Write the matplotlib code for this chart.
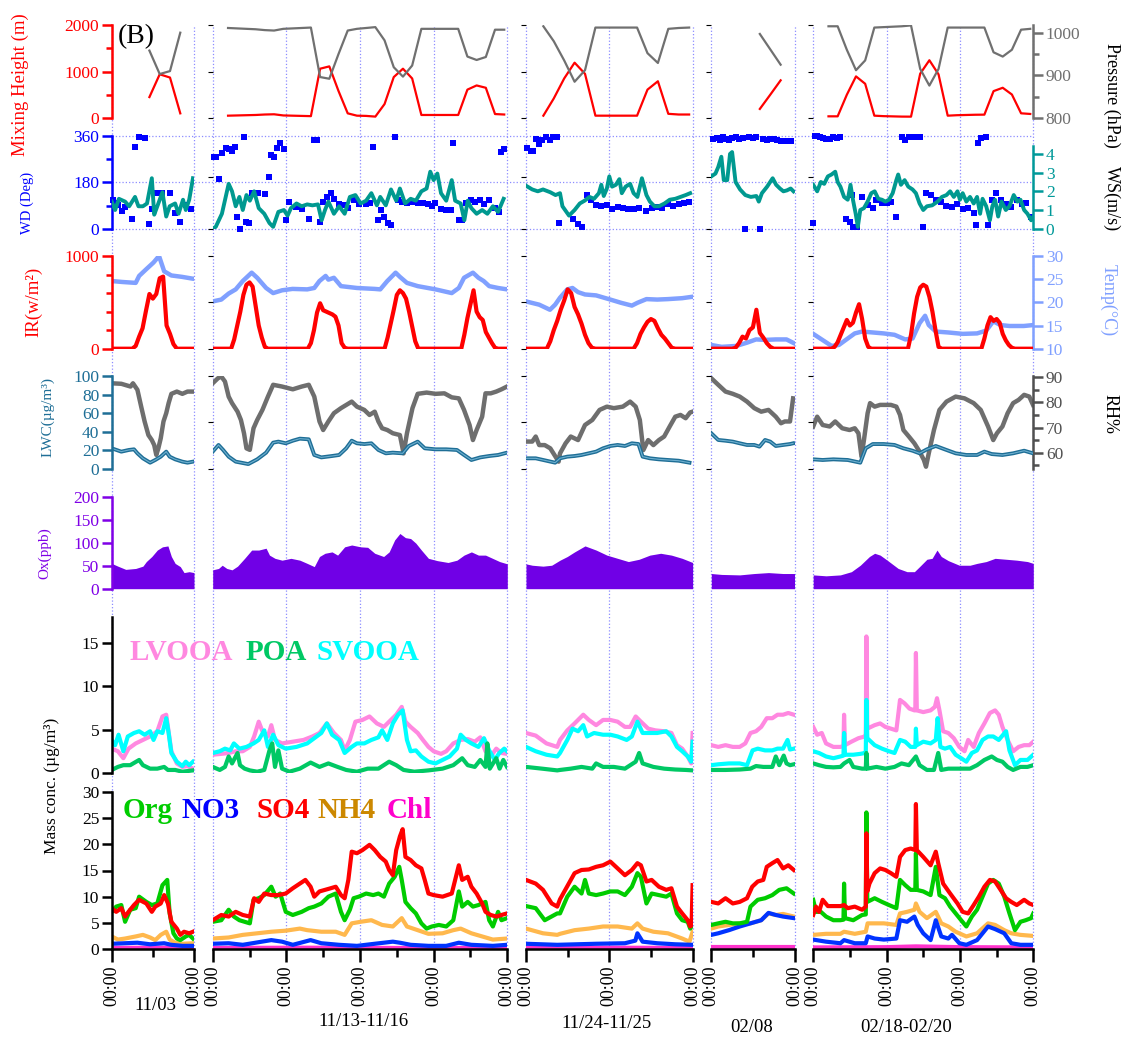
import numpy as np
import matplotlib.pyplot as plt
from matplotlib.ticker import MultipleLocator

nan = np.nan

# ---------------- data ----------------
seg_days = [1, 4, 2, 1, 3]
seg_labels = ['11/03', '11/13-11/16', '11/24-11/25', '02/08', '02/18-02/20']

# mixing height (m) and pressure (hPa), every 3 h from 02:00
met_start, met_step = 2, 3
mix_height = [
    [nan, nan, nan, 450, 940, 870, 100, nan],
    [nan, 50, 55, 60, 65, 75, 80, 55, 50, 45, 40, 1060, 1110, 580, 100, 50, 45, 30, 300, 880,
     1060, 850, 65, 65, 65, 65, 65, 610, 700, 650, 85, 75],
    [nan, 50, 420, 850, 1190, 950, 50, 50, 50, 50, 50, 610, 790, 90, 75, 75],
    [nan, nan, nan, nan, 195, 500, 810, nan],
    [nan, 36, 36, 500, 895, 736, 50, 40, 35, 30, 29, 953, 1242, 939, 50, 60, 65, 70, 72, 578,
     650, 505, 101, 87],
]
pressure = [
    [nan, nan, nan, 958, 903, 910, 1000, nan],
    [nan, 1011, 1010, 1009, 1008, 1006, 1005, 1009, 1010, 1011, 1012, 896, 892, 950, 1005, 1009,
     1011, 1013, 982, 919, 897, 923, 1009, 1009, 1009, 1009, 1009, 944, 936, 943, 1007, 1007],
    [nan, 1015, 980, 935, 885, 912, 1012, 1012, 1012, 1012, 1012, 952, 929, 1009, 1011, 1012],
    [nan, nan, nan, nan, 997, 961, 925, nan],
    [nan, 1015, 1015, 960, 912, 935, 1012, 1013, 1014, 1015, 1017, 915, 876, 915, 1012, 1012,
     1012, 1012, 1012, 954, 944, 960, 1007, 1009],
]

# wind direction (deg), (hour, value)
wind_dir = [
    [(0.5, 111), (1.5, 100), (1.8, 92), (2.9, 70), (4, 85), (6, 36), (6.8, 318), (8, 357), (9.6, 353),
     (11, 18), (11.7, 75), (13.3, 137), (14.8, 140), (16.9, 137), (18.5, 60), (20, 27), (21.6, 92), (23, 75)],
    [(0.3, 277), (1, 277), (1.9, 192), (3, 293), (4.2, 312), (5.2, 308), (6.3, 303), (7.3, 319), (8, 44),
     (9, 0), (10.1, 355), (11, 27), (11.9, 23), (12.9, 137), (14.6, 137), (16.9, 135), (18.3, 199),
     (19, 286), (20.1, 280), (21, 312), (22, 334), (23.1, 308), (24, 34), (25, 105), (27.3, 83), (29, 75),
     (31.4, 36), (33, 344), (34, 344), (35, 27), (36, 105), (37.2, 124), (38.4, 137), (39.5, 114),
     (41.2, 96), (43, 92), (44.2, 79), (46, 111), (47.7, 96), (50, 96), (51.2, 101), (52.3, 318),
     (53.8, 34), (55, 73), (55.8, 44), (57, 23), (58.1, 14), (59.3, 357), (60.4, 111), (61.6, 105),
     (63.3, 101), (65, 105), (66.8, 98), (68.5, 98), (70.3, 96), (71.4, 88), (72.6, 98), (74.4, 75),
     (76.1, 73), (77.5, 73), (78.4, 334), (80.2, 34), (81.3, 34), (82.5, 98), (84.3, 111), (85.4, 105),
     (87.2, 111), (88.4, 96), (90.1, 111), (91.9, 79), (93.4, 66), (93.9, 299), (95, 309)],
    [(0.3, 312), (1.3, 303), (2, 303), (2.8, 347), (3.8, 329), (4.7, 344), (5.7, 355), (7, 344),
     (7.8, 355), (9, 357), (9.6, 21), (13.4, 36), (15, 18), (16, 8), (17.6, 131), (18.6, 111),
     (20.2, 92), (21.7, 88), (23.3, 92), (24.8, 75), (26.4, 83), (27.9, 79), (29.5, 75), (31, 75),
     (32.6, 79), (34.7, 70), (36.2, 79), (37.8, 85), (39.3, 79), (40.9, 96), (42.4, 88), (44, 96),
     (45.5, 101), (47.1, 105)],
    [(0.5, 350), (1.5, 352), (2.5, 345), (3.3, 355), (4.2, 350), (5, 345), (6, 352), (7, 355), (8, 350),
     (9, 352), (9.8, 0), (11, 355), (12, 352), (13, 355), (14, 0), (15, 350), (16, 345), (17, 350),
     (18, 348), (19, 345), (20, 342), (21, 342), (22, 340), (23, 340)],
    [(0, 23), (0.5, 360), (1.3, 360), (2.2, 355), (3.1, 352), (4.3, 350), (5.5, 348), (6.6, 355),
     (7.8, 352), (8.9, 355), (10.7, 36), (11.9, 27), (12.7, 131), (13, 8), (14.2, 8), (16, 124),
     (17.8, 92), (19.5, 79), (20.7, 111), (22.5, 98), (24.2, 98), (25.4, 105), (27.2, 47), (29, 357),
     (30.1, 344), (31.3, 355), (33, 355), (34.8, 355), (36, 8), (37, 140), (38.4, 131), (40.1, 111),
     (41.9, 105), (43.6, 88), (45.4, 85), (47.2, 96), (48.9, 75), (50.7, 79), (52.5, 62), (53.4, 14),
     (53.9, 331), (54.8, 351), (56.6, 357), (57.2, 14), (58.4, 111), (59.8, 137), (61.3, 111), (63, 96),
     (64.8, 85), (66.6, 111), (68.4, 96), (69.5, 98), (71.3, 47)],
]

# wind speed (m/s)
wind_speed = [
    [(0, 1.45), (1, 1.0), (2.1, 1.6), (3.9, 1.45), (5.1, 1.2), (6.8, 1.7), (7.8, 1.2), (9.1, 1.2),
     (10.3, 1.35), (11.7, 2.7), (12.4, 0.75), (13.3, 1.2), (14.8, 1.95), (15.9, 0.65), (16.9, 1.2),
     (18.5, 1.35), (19.5, 0.8), (20.8, 1.55), (21.6, 1.0), (22.6, 1.55), (23.7, 2.7)],
    [(0, 0.0), (1, 0.1), (3, 0.8), (5.2, 2.4), (6.3, 2.0), (7.5, 1.2), (8.7, 1.7), (9.8, 1.0), (11, 1.8),
     (12.1, 1.5), (13.5, 2.0), (15, 1.1), (16.8, 0.8), (18.5, 0.3), (19.7, 0.1), (21.4, 0.9), (23.2, 1.0),
     (24.4, 0.7), (25.5, 1.1), (27.3, 1.35), (29, 1.2), (30.8, 1.3), (32.5, 1.25), (34.3, 1.3),
     (35.5, 0.45), (36.6, 1.0), (37.7, 1.45), (39.5, 0.8), (41.2, 1.2), (43, 0.8), (44.7, 1.7),
     (46.5, 1.8), (48.2, 1.35), (50, 1.5), (51.7, 1.9), (53.5, 1.25), (54.6, 1.7), (56.4, 1.25),
     (58.1, 2.1), (59.8, 1.5), (61, 2.15), (62.7, 1.35), (64.5, 1.6), (66.2, 1.5), (68, 2.0),
     (69.7, 2.15), (70.9, 3.05), (72, 2.6), (73.2, 2.95), (74.4, 1.9), (76.1, 1.5), (77.9, 2.6),
     (79, 1.5), (80.8, 1.35), (82, 0.45), (83.1, 1.5), (84.3, 1.1), (86, 0.8), (87.8, 1.0), (89.5, 0.8),
     (91.3, 1.2), (93, 0.9), (94.8, 1.6)],
    [(0, 2.3), (1.8, 2.1), (3.4, 2.0), (4.9, 2.1), (7, 1.95), (8.5, 1.8), (9.8, 1.9), (10.5, 1.2),
     (12.4, 0.7), (14, 1.0), (15.5, 1.35), (16.9, 1.5), (18.3, 1.7), (19.6, 1.6), (21, 1.9), (21.7, 2.35),
     (22.4, 1.75), (23.3, 2.15), (24, 2.8), (24.8, 2.25), (25.9, 2.35), (26.9, 2.65), (27.6, 1.9),
     (28.7, 2.25), (30, 2.4), (31, 1.9), (32.1, 1.7), (33.4, 2.7), (34.7, 1.8), (35.7, 1.45), (37, 1.2),
     (38.3, 1.2), (39.9, 1.35), (41.4, 1.55), (43, 1.6), (44.5, 1.7), (46, 1.8), (47.3, 1.9)],
    [(0, 2.8), (1.2, 2.95), (2, 3.3), (2.9, 3.85), (3.6, 2.6), (4.6, 2.6), (5.4, 4.0), (6, 4.1), (7, 2.5),
     (8.3, 2.1), (9.8, 1.8), (11.4, 1.7), (13, 1.75), (13.7, 1.45), (14.6, 1.9), (16.1, 2.25), (17.7, 2.7),
     (18.7, 2.35), (19.8, 2.15), (20.8, 2.0), (21.8, 2.05), (22.9, 2.15), (23.7, 2.0)],
    [(0, 2.35), (1.3, 2.0), (2.5, 2.5), (3.6, 2.4), (4.8, 2.8), (6, 2.9), (7.2, 3.05), (8, 2.5), (8.9, 2.25),
     (10.1, 1.7), (11.3, 1.55), (12.2, 2.35), (13, 1.55), (13.9, 0.8), (14.6, 0.1), (15.4, 1.0),
     (16.6, 1.1), (17.8, 1.45), (19, 1.9), (20.1, 2.0), (21.3, 1.6), (22.5, 1.55), (23.6, 1.45),
     (24.8, 1.55), (26, 1.9), (27.2, 2.6), (27.8, 2.9), (28.7, 2.35), (29.9, 2.6), (31.1, 2.25),
     (32.5, 2.1), (33.6, 1.9), (34.8, 1.35), (36, 1.0), (37.2, 1.2), (38.9, 1.25), (40.7, 1.45),
     (42.1, 1.7), (43.6, 1.8), (44.8, 2.0), (46, 1.7), (47.2, 2.0), (48, 1.55), (48.9, 1.9), (50.1, 1.45),
     (51.3, 1.7), (52.5, 1.35), (53.6, 1.7), (54.6, 0.8), (55.4, 1.6), (56.6, 1.2), (57.8, 0.45),
     (58.6, 1.2), (59.5, 1.55), (60.5, 0.65), (61.6, 1.45), (63, 1.0), (64.2, 1.2), (65.6, 1.8),
     (66.8, 1.45), (67.8, 1.55), (69, 1.0), (70.1, 0.8), (71.3, 0.45), (72, 0.65)],
]

# irradiance (W/m2), hourly from 00:00
irradiance = [
    [0, 0, 0, 0, 0, 0, 0, 30, 130, 220, 410, 590, 540, 590, 760, 778, 250, 160, 50, 0, 0, 0, 0, 0, 0],
    [0] * 7 + [100, 250, 400, 580, 690, 715, 670, 460, 250, 120, 20] + [0] * 14
    + [60, 200, 390, 490, 415, 400, 385, 370, 345, 250, 60, 10] + [0] * 13
    + [120, 270, 420, 580, 630, 600, 540, 400, 240, 80] + [0] * 15
    + [150, 330, 480, 630, 400, 340, 310, 180, 120, 60, 10] + [0] * 4,
    [0] * 7 + [80, 200, 300, 420, 520, 640, 600, 450, 370, 270, 150, 60, 10] + [0] * 12
    + [60, 160, 230, 290, 320, 300, 220, 150, 110, 60, 10] + [0] * 6,
    [0, 0, 0, 0, 0, 0, 0, 10, 60, 130, 110, 200, 230, 420, 170, 120, 60, 20, 0, 0, 0, 0, 0, 0, 0],
    [0] * 7 + [20, 70, 150, 230, 310, 250, 280, 390, 480, 320, 110, 20] + [0] * 13
    + [150, 380, 560, 660, 690, 670, 560, 400, 200, 20] + [0] * 14
    + [110, 250, 340, 300, 320, 280, 160, 90, 40, 10] + [0] * 7,
]

# temperature (degC)
temperature = [
    [(0, 24.6), (3, 24.4), (7, 24.2), (8, 25.7), (10, 27.1), (12.2, 28.6), (13.8, 30.0), (14.3, 28.9),
     (15.3, 26.7), (17.4, 25.8), (20.5, 25.5), (23.7, 25.1), (24, 25.1)],
    [(0, 20.2), (2.8, 20.6), (5.2, 21.9), (7.5, 22.8), (9.8, 24.6), (12.7, 26.4), (14.5, 25.3),
     (17.4, 23.1), (19.7, 22.0), (22.6, 22.6), (26, 22.9), (30.8, 22.8), (33.1, 23.1), (34.8, 24.6),
     (36.8, 25.7), (37.7, 24.9), (39.5, 25.3), (41.8, 23.5), (47, 23.1), (52.8, 22.9), (54.6, 22.8),
     (56.9, 24.6), (59.6, 26.4), (61, 25.5), (63.3, 24.2), (66.8, 23.5), (72.6, 22.8), (77.9, 22.0),
     (80.2, 23.1), (81.9, 25.3), (84.8, 26.4), (86.6, 25.3), (88.3, 24.6), (90.1, 23.5), (93, 23.1),
     (95.9, 22.8)],
    [(0, 20.2), (3.8, 19.5), (6.9, 18.4), (8.4, 19.5), (9.8, 21.0), (11.9, 22.8), (13.4, 23.1), (15, 22.2),
     (17, 21.7), (20.2, 21.5), (24.3, 20.6), (27.4, 19.9), (30.5, 19.3), (32.1, 19.9), (34.7, 20.7),
     (37.8, 20.6), (40.9, 20.7), (45, 20.9), (47.9, 21.2)],
    [(0, 10.8), (3, 10.4), (7.2, 10.6), (10.3, 11.3), (12.9, 12.0), (15.5, 11.9), (18.6, 12.0),
     (21.7, 12.0), (23.8, 11.2)],
    [(0, 13.2), (3, 11.9), (6, 10.6), (8.4, 10.8), (11.3, 12.2), (13.6, 13.3), (16, 13.7), (19.5, 13.5),
     (23, 13.3), (26.6, 13.0), (30.1, 12.0), (32.5, 12.2), (34.8, 15.5), (36.6, 17.1), (37.8, 15.1),
     (40.1, 13.7), (44.2, 13.5), (48.9, 13.2), (53.6, 13.3), (56.6, 13.9), (58.9, 15.9), (61.3, 15.1),
     (64.2, 14.9), (68.9, 14.9), (72, 15.1)],
]

# liquid water content (ug/m3)
lwc = [
    [(0, 22), (2.8, 18.4), (5, 20.2), (6.5, 20.9), (7.5, 16.6), (9.1, 11.2), (11.2, 6.5), (12.7, 9.4),
     (14.3, 13), (15.9, 18.4), (16.9, 13), (18.5, 10.1), (20.6, 7.6), (22.1, 6.5), (23.7, 7.6)],
    [(0, 18.4), (1.9, 25.6), (3.4, 20.2), (5.2, 13), (7.5, 7.6), (11.6, 5), (14.5, 10.1), (17.4, 17.3),
     (19.7, 28.1), (21.4, 29.2), (23.8, 27.4), (26.1, 30.2), (28.4, 32.4), (31.3, 31.7), (33.1, 14.8),
     (35.4, 12.2), (38.9, 13.7), (41.2, 14.8), (43.5, 22), (45.3, 30.2), (47, 27.4), (49.4, 26.6),
     (51.7, 27.4), (54, 20.2), (56.4, 16.6), (58.7, 17.3), (61.9, 16.6), (63.9, 24.5), (66.8, 29.2),
     (69.1, 22), (72.6, 20.9), (76.1, 20.9), (79.6, 20.2), (81.9, 14.8), (84.3, 9.4), (87.2, 12.2),
     (90.1, 13.7), (93, 14.8), (95.9, 17.3)],
    [(0, 11.2), (2.8, 11.2), (5.9, 8.6), (8.4, 6.5), (9.8, 11.2), (11.9, 13), (14, 13.7), (16, 14.8),
     (18.1, 16.6), (20.2, 18.4), (22.2, 22), (24.3, 24.5), (26.4, 25.6), (28.5, 24.5), (30.5, 27.4),
     (32.4, 26.6), (33.6, 13), (35.7, 11.2), (38.3, 10.1), (40.9, 9.4), (44, 8.6), (47.1, 6.5)],
    [(0, 38.2), (2, 31), (4.1, 30.2), (6.2, 29.2), (8.2, 27.4), (10.3, 25.6), (12.4, 25.6), (13.9, 23.8),
     (15.5, 31), (17, 29.2), (18.6, 24.5), (20.7, 25.6), (22.7, 26.6), (23.6, 27.4)],
    [(0, 10.1), (3.1, 9.4), (6.6, 10.1), (11.3, 9.4), (15.4, 6.5), (17.2, 22), (19.5, 26.6), (23.1, 26.6),
     (26.6, 25.6), (29.5, 22), (32.5, 19.4), (34.8, 16.6), (37.2, 20.9), (40.1, 24.5), (43.6, 20.2),
     (46.6, 16.6), (50.1, 14.8), (53.6, 14.8), (56, 18.4), (58.4, 15.8), (61.9, 14.8), (65.4, 16.6),
     (69, 19.4), (71.9, 16.6)],
]

# relative humidity (%)
rh = [
    [(0, 87.6), (2.8, 87.4), (5.5, 86.3), (6.2, 87.6), (7.5, 85), (8.6, 78.3), (9.6, 72.4), (10.7, 67),
     (11.7, 65), (12.4, 63), (13, 59.1), (13.6, 61.7), (14.3, 65.7), (15.1, 72.4), (15.9, 75.7),
     (16.6, 79.7), (17.4, 83.4), (19, 84.3), (20.6, 83.4), (22.1, 84.3), (23.7, 84.3)],
    [(0, 87.6), (1.7, 89.6), (2.8, 90.3), (4, 88.3), (5.2, 82.3), (6.3, 79.7), (8.1, 76.3), (9.2, 73),
     (10.2, 67.7), (11, 61.7), (12.1, 61.1), (13.3, 69.7), (14.5, 73), (16.2, 77), (18, 82.3), (19.7, 87),
     (22.6, 86.3), (26.1, 85.2), (29, 86.3), (31.3, 87), (33.1, 82.3), (34.8, 72.4), (36, 69),
     (37.7, 72.4), (39.5, 75.7), (41.8, 77.7), (45.3, 80.3), (47, 78.3), (49.4, 77), (51.1, 75),
     (52.8, 76.3), (54, 72.4), (55.2, 69.7), (56.9, 69), (58.7, 67.7), (61, 67), (62.2, 59.7),
     (63.3, 67.7), (65.1, 77.7), (66.8, 83.4), (69.7, 83.9), (72.6, 83.4), (75.5, 83.6), (77.9, 82),
     (80.2, 81.6), (81.9, 77), (83.7, 71), (84.8, 65), (86, 69), (87.8, 74.3), (88.9, 83.6), (90.6, 83.6),
     (92.4, 84.3), (94.1, 85.2), (95.9, 86.3)],
    [(0, 64.4), (1.8, 64.4), (2.8, 66.4), (3.8, 63), (5.4, 63), (7, 61.7), (9.4, 56.4), (9.8, 59.7),
     (11.4, 63.7), (12.9, 66.4), (15, 65), (17, 71), (19.1, 73), (21.2, 77), (23.3, 78.3), (25.3, 77.7),
     (27.9, 78.3), (30, 80.3), (31.6, 78.3), (32.8, 73), (33.8, 61), (35.2, 65), (36.7, 63), (38.3, 65),
     (39.8, 66.4), (41.4, 70.4), (43, 74.3), (44.5, 75), (46, 73.7), (47.3, 76), (48, 76.3)],
    [(0, 89.6), (2, 87), (4.1, 84.3), (6.2, 83.4), (8.2, 82.3), (10.3, 80.3), (12.4, 77.7), (14.4, 76.3),
     (16.5, 77), (18.6, 74.3), (20.1, 71.7), (21.2, 72.4), (22.7, 72.4), (23.6, 81.6)],
    [(0, 70.4), (1.3, 74.3), (3.1, 71), (5.4, 70.4), (7.2, 72.4), (9.5, 69.7), (11.9, 69), (13.6, 69.7),
     (14.8, 67.7), (15.8, 58.4), (16.6, 65), (17.8, 75.7), (18.6, 79.7), (20.1, 78.3), (21.9, 79),
     (23.6, 79), (25.4, 79), (27.2, 78.3), (28.4, 75), (29.5, 69), (31.3, 66.4), (33.1, 63.7),
     (34.8, 60.4), (36.2, 57.1), (36.9, 54.4), (37.8, 59.7), (39.5, 69), (41.3, 77), (43.6, 80.3),
     (46.6, 82.3), (49.5, 81.6), (52.5, 79.7), (54.8, 77), (57.2, 70.4), (58.9, 65), (60.1, 67.7),
     (61.9, 70.4), (63.6, 75.7), (65.4, 79.7), (67.2, 81), (69, 83), (70.7, 82.3), (71.9, 79)],
]

# Ox (ppb)
ox = [
    [(0, 55), (1.8, 49), (4.1, 42), (7, 44), (9.1, 49), (10.1, 59), (11.7, 70), (13.3, 84), (14.8, 91),
     (16.4, 93), (17.4, 70), (18.5, 55), (20, 48), (21.1, 35), (22.6, 37), (24, 35)],
    [(0, 41), (1.9, 44), (3.1, 51), (4.6, 44), (6.3, 41), (8.1, 49), (10.4, 66), (12.7, 84), (15, 84),
     (17.4, 88), (18.5, 73), (20.3, 66), (22.6, 62), (25.5, 66), (28.4, 62), (30.8, 55), (33.1, 48),
     (34.8, 70), (36.6, 77), (38.9, 80), (40.7, 73), (43, 91), (45.3, 95), (48.2, 91), (50.5, 90),
     (52.8, 77), (55.7, 70), (57.5, 80), (59.3, 106), (61, 120), (62.8, 111), (64.5, 109), (66.2, 99),
     (68, 84), (70.3, 66), (73.2, 61), (76.7, 57), (79.6, 62), (81.9, 73), (84.3, 80), (86.6, 73),
     (88.9, 73), (91.2, 66), (93.5, 59), (96, 54)],
    [(0, 54), (1.8, 51), (4.9, 49), (7.4, 51), (9.8, 62), (11.9, 70), (14, 80), (17, 93), (20.2, 84),
     (23.3, 73), (26.4, 66), (29.5, 59), (32.6, 64), (35.7, 73), (38.8, 77), (41.9, 73), (45, 66), (48, 57)],
    [(0, 33), (3, 31), (8.2, 30), (12.4, 33), (16.5, 35), (20.7, 33), (24, 33)],
    [(0, 30), (4.2, 28), (8.9, 30), (12.5, 37), (15.4, 51), (18.4, 70), (20.1, 77), (21.9, 73), (24.2, 62),
     (27.8, 44), (30.7, 37), (33.1, 37), (34.8, 48), (37.2, 64), (38.9, 66), (40.5, 84), (41.9, 70),
     (44.2, 61), (47.8, 51), (51.3, 51), (53.6, 55), (56.6, 59), (59.5, 66), (63.1, 64), (66.6, 62),
     (70.1, 59), (72, 55)],
]

# PMF factors (ug/m3)
lvooa = [
    [(0, 2.8), (1.8, 2.5), (3.4, 1.7), (4.9, 2.8), (7, 3.4), (9.1, 3.8), (11.2, 4.2), (13.3, 4.8),
     (14.8, 6.5), (15.9, 6.7), (16.4, 5.3), (17.4, 2.5), (19, 1.1), (20.6, 0.7), (22.1, 0.8), (23.7, 0.5)],
    [(0, 2.1), (2.8, 2.2), (5.2, 2.3), (7.5, 2.5), (9.8, 2.5), (12.1, 3.0), (13.5, 4.2), (15, 5.9),
     (16.2, 4.8), (18, 4.2), (19.1, 5.5), (20.3, 3.8), (22.6, 3.4), (26.1, 3.6), (29.6, 3.8), (32.5, 4.2),
     (34.8, 4.6), (37.2, 5.7), (39.5, 4.6), (41.8, 3.8), (43, 2.6), (44.7, 3.8), (46.5, 5.9), (48.8, 6.1),
     (51.1, 6.5), (53.5, 5.7), (55.8, 5.3), (57.5, 5.9), (59.8, 6.7), (61.6, 7.6), (62.8, 5.9),
     (64.5, 5.3), (66.8, 4.6), (68.5, 3.8), (70.3, 3.0), (72, 2.5), (74.4, 2.2), (76.1, 2.5), (78.4, 3.4),
     (80.8, 3.8), (83.1, 3.9), (85.4, 3.6), (87.2, 4.1), (88.9, 2.5), (90.6, 1.9), (92.4, 2.8),
     (94.1, 2.3), (95.9, 2.2)],
    [(0, 4.6), (2.8, 4.3), (5.9, 3.4), (9, 3.0), (9.8, 3.8), (11.9, 4.9), (14, 5.7), (16.5, 6.7),
     (18.1, 6.1), (20.2, 5.5), (22.2, 6.1), (24.3, 6.1), (26.4, 5.9), (28.5, 5.3), (30, 5.3), (31.6, 6.5),
     (33.1, 5.9), (35.2, 5.1), (37.3, 4.9), (39.8, 4.8), (41.9, 4.6), (43.5, 3.2), (45, 2.8), (46.6, 1.9),
     (47.6, 1.1), (48, 4.6)],
    [(0, 3.2), (2, 3.0), (4.1, 3.2), (6.2, 3.0), (8.2, 3.0), (9.8, 3.4), (11.3, 4.6), (12.9, 4.8),
     (14.4, 5.3), (16, 6.3), (17.6, 6.3), (19.1, 6.7), (20.7, 6.7), (22.2, 6.9), (23.8, 6.7)],
    [(0, 5.3), (1.3, 4.4), (2.8, 4.6), (4.2, 3.4), (6.6, 3.0), (8.9, 3.0), (9.9, 3.1), (10.1, 6.7),
     (10.4, 3.2), (12.5, 3.6), (14.8, 4.0), (16.9, 4.2), (17.2, 4.3), (17.4, 15.7), (17.7, 5.1),
     (20.1, 5.5), (21.9, 5.7), (23.6, 5.3), (25.4, 5.1), (27.2, 4.9), (28.4, 8.4), (29.9, 8.0),
     (31.5, 7.4), (33.1, 7.2), (33.4, 7.2), (33.6, 13.8), (33.9, 7.2), (36, 7.0), (38.4, 7.2), (39.8, 7.6),
     (40.5, 8.6), (41.3, 7.2), (42.5, 4.8), (44.2, 4.6), (46, 4.0), (47.8, 3.0), (49.5, 2.5), (50.7, 3.8),
     (52.5, 3.0), (54.2, 4.6), (56, 5.7), (57.8, 6.9), (59.5, 7.2), (60.7, 6.7), (61.9, 5.3), (63.6, 3.8),
     (65.4, 2.5), (67.2, 3.0), (69, 3.2), (70.7, 3.2), (72, 3.6)],
]
svooa = [
    [(0, 3.8), (1, 3.2), (2, 4.4), (3.4, 2.5), (4.7, 4.2), (6.5, 4.6), (8, 4.8), (9.6, 4.4), (11.2, 4.8),
     (12.2, 3.8), (13.3, 4.8), (14.8, 4.6), (15.9, 6.3), (16.6, 4.6), (17.4, 2.3), (19, 1.3), (20.6, 0.8),
     (21.6, 1.3), (22.6, 0.9), (23.7, 1.3)],
    [(0, 2.3), (2.3, 2.5), (4, 2.8), (5.7, 2.6), (6.9, 3.4), (8.7, 2.8), (11, 3.0), (13.3, 3.4), (15, 3.8),
     (16.8, 4.9), (18, 3.0), (19.7, 4.4), (21.4, 3.2), (23.8, 2.8), (27.3, 3.0), (30.8, 3.4), (33.1, 4.0),
     (35.4, 4.6), (37.2, 5.7), (38.9, 4.4), (41.2, 3.8), (43, 2.3), (45.3, 3.0), (47, 3.4), (49.4, 3.4),
     (51.7, 3.8), (54, 4.1), (55.2, 4.9), (56.9, 3.8), (58.7, 5.7), (60.4, 6.7), (61.9, 7.2), (63.3, 3.8),
     (64.5, 2.5), (66.2, 2.6), (68, 1.9), (70.3, 1.3), (72.6, 1.1), (74.9, 1.5), (77.2, 1.9), (79.6, 2.8),
     (80.8, 4.4), (82.5, 3.8), (84.3, 3.4), (86.6, 3.0), (88.4, 4.0), (90.1, 2.6), (91.9, 1.5),
     (93.4, 2.3), (95, 2.8), (95.9, 2.5)],
    [(0, 3.0), (2.8, 2.5), (5.9, 2.1), (9, 1.9), (9.8, 2.3), (11.9, 3.8), (13.4, 5.1), (15, 4.8),
     (16.5, 5.5), (17.6, 4.2), (19.6, 4.6), (22.2, 4.4), (24.3, 4.4), (26.4, 4.2), (29, 3.8), (30.5, 4.2),
     (32.1, 5.9), (33.6, 4.6), (35.7, 4.6), (37.8, 4.6), (40.4, 4.8), (41.9, 4.2), (43.5, 3.0), (45, 2.5),
     (46.6, 1.9), (47.6, 1.3), (48, 3.6)],
    [(0, 0.9), (2, 1.0), (5.1, 1.1), (8.2, 1.1), (10.3, 0.9), (11.9, 2.6), (13.4, 2.8), (15.5, 2.6),
     (17.6, 2.6), (19.1, 2.8), (20.7, 2.8), (22, 3.8), (22.7, 2.7), (23.8, 2.8)],
    [(0, 2.5), (1.9, 2.3), (4.2, 1.9), (6.6, 1.7), (8.9, 1.9), (9.9, 2.0), (10.1, 4.6), (10.4, 2.1),
     (13.1, 2.1), (15.4, 2.2), (16.9, 2.3), (17.2, 2.3), (17.4, 8.4), (17.7, 4.0), (20.1, 3.2), (22.5, 2.8),
     (24.8, 2.5), (26.6, 2.3), (28.4, 3.8), (30.1, 3.6), (31.9, 3.0), (33.4, 3.0), (33.6, 5.1), (33.9, 3.2),
     (36, 3.6), (38.4, 3.4), (40.1, 3.8), (40.7, 6.3), (41.6, 3.0), (43.1, 2.8), (44.8, 3.0), (46.6, 2.1),
     (48.4, 1.7), (50.1, 1.3), (51.9, 2.3), (53.6, 2.6), (55.4, 3.8), (57.2, 4.2), (58.9, 4.2),
     (60.7, 3.8), (63.1, 4.8), (64.2, 2.6), (66, 0.9), (67.8, 1.5), (70.1, 1.5), (72, 2.1)],
]
poa = [
    [(0, 0.35), (1.8, 0.7), (3.4, 0.9), (5.4, 0.9), (8, 1.5), (9.1, 0.9), (11.2, 0.5), (13.3, 0.5),
     (15.3, 0.7), (16.4, 0.35), (18.5, 0.35), (20.6, 0.15), (23.7, 0.3)],
    [(0, 0.7), (2.3, 0.35), (4, 0.7), (5.2, 1.9), (6.3, 1.1), (8.1, 2.3), (8.9, 0.9), (10.4, 0.5),
     (12.1, 0.3), (14.5, 0.15), (16.8, 0.35), (18.5, 2.6), (19.4, 3.4), (20.3, 0.7), (21.4, 2.6),
     (22.6, 0.5), (25, 0.15), (28.4, 0.5), (31.9, 1.2), (34.8, 0.7), (37.7, 1.1), (40.7, 0.7),
     (43.5, 0.35), (47, 0.15), (50.5, 0.5), (54, 0.5), (57.5, 1.3), (59.8, 0.9), (62.2, 0.35),
     (65.7, 0.15), (70.3, 0.3), (74.9, 0.5), (78.4, 0.9), (81.3, 1.7), (83.1, 0.9), (85.4, 0.7),
     (87.2, 1.5), (88.9, 0.7), (89.5, 3.4), (90.3, 0.5), (92.4, 1.7), (93.5, 0.5), (94.7, 1.5), (95.9, 0.7)],
    [(0, 0.7), (4.6, 0.5), (9, 0.3), (9.8, 0.35), (12.9, 0.5), (16, 0.7), (19.1, 0.5), (20.2, 1.1),
     (22.2, 0.7), (25.3, 0.7), (28.5, 0.5), (31.6, 1.3), (32.6, 2.3), (33.6, 1.1), (36.7, 0.7),
     (39.8, 0.5), (43, 0.4), (46.1, 0.35), (48, 0.3)],
    [(0, 0.35), (4.1, 0.35), (8.2, 0.4), (11.3, 0.5), (12.9, 0.8), (15, 0.7), (17.6, 0.7), (18.6, 1.9),
     (19.6, 0.9), (20.9, 2.0), (21.7, 1.1), (22.7, 0.9), (23.8, 1.0)],
    [(0, 1.1), (1.9, 0.9), (4.2, 0.7), (6.6, 0.65), (8.9, 0.7), (10.1, 1.1), (11.9, 1.5), (13.1, 0.7),
     (16, 0.5), (17.2, 0.5), (17.4, 2.3), (17.7, 0.5), (20.7, 0.7), (23.6, 0.5), (26.6, 0.7), (28.9, 1.1),
     (31.3, 0.9), (33.6, 1.9), (34.8, 0.9), (37.2, 0.35), (39.5, 0.35), (40.9, 2.3), (41.9, 0.35),
     (44.2, 0.5), (46.6, 0.5), (48.9, 0.5), (51.3, 0.5), (53.6, 0.9), (56, 1.5), (58.4, 1.9), (60.1, 1.5),
     (61.9, 1.3), (63.6, 0.7), (65.4, 0.35), (67.8, 0.7), (70.1, 0.7), (72, 0.9)],
]

# AMS species (ug/m3)
org = [
    [(0, 7.1), (1.3, 8.1), (2.8, 8.4), (3.9, 5.2), (5.4, 7.5), (7, 7.8), (8, 10.0), (10.1, 9.0),
     (11.7, 8.4), (13.3, 8.7), (14.8, 12.2), (16.2, 13.2), (16.9, 6.8), (18, 3.0), (19, 2.0), (20, 1.7),
     (21.6, 2.4), (22.6, 2.7), (23.7, 2.0)],
    [(0, 5.2), (2.8, 5.5), (5.2, 7.5), (6.9, 6.2), (8.7, 5.5), (10.4, 5.2), (12.1, 4.9), (13.3, 9.4),
     (15, 9.7), (16.8, 10.3), (19.1, 11.9), (20.5, 10.0), (22, 10.6), (23.8, 7.1), (26.1, 6.5), (29, 7.1),
     (31.3, 7.8), (33.1, 8.1), (35.4, 8.7), (37.7, 10.0), (40.1, 10.6), (41.8, 7.1), (43, 5.5),
     (44.7, 7.5), (45.9, 9.7), (47.6, 10.0), (50, 10.6), (52.3, 10.3), (54, 10.6), (55.8, 10.0),
     (57.5, 12.5), (59.3, 13.8), (60.8, 15.7), (61.6, 13.2), (62.8, 9.0), (64.5, 7.8), (66.2, 6.8),
     (68, 4.9), (69.7, 3.9), (71.4, 4.3), (73.7, 4.6), (76.1, 4.3), (78.4, 5.5), (80.2, 11.0), (81.3, 8.1),
     (83.1, 9.0), (84.8, 8.1), (86.6, 8.4), (88.9, 9.0), (90.1, 5.5), (91.3, 4.3), (93, 7.1), (94.1, 5.5),
     (95.9, 5.9)],
    [(0, 8.2), (2.8, 7.8), (5.4, 5.5), (9, 6.8), (9.8, 6.8), (11.9, 10.0), (14, 11.9), (16, 10.6),
     (17, 13.2), (18.1, 10.6), (20.2, 10.3), (22.2, 10.6), (24.3, 11.0), (26.4, 11.0), (28.5, 10.3),
     (30.5, 11.9), (32.1, 14.5), (33.1, 13.8), (34.7, 8.7), (36.2, 10.6), (38.3, 10.3), (40.4, 10.0),
     (41.9, 10.6), (43.5, 6.8), (45, 5.5), (46.6, 5.2), (47.3, 3.9), (48, 4.6)],
    [(0, 4.6), (2, 4.9), (4.1, 5.2), (6.2, 4.9), (8.2, 4.9), (10.3, 5.2), (11.3, 8.1), (13.4, 9.4),
     (15.5, 9.7), (17.6, 10.3), (19.6, 11.3), (21.7, 11.6), (23.8, 10.6)],
    [(0, 9.4), (0.9, 7.1), (2.5, 7.1), (4.2, 6.2), (6.6, 5.5), (8.9, 5.5), (9.9, 5.6), (10.1, 12.5),
     (10.4, 5.9), (13.1, 5.5), (16, 6.5), (17.2, 6.6), (17.4, 26.1), (17.7, 9.0), (20.1, 9.7), (22.5, 9.0),
     (24.8, 8.4), (27.2, 7.8), (28.4, 13.2), (30.1, 12.2), (31.9, 11.3), (33.4, 11.3), (33.6, 18.3),
     (33.9, 11.3), (36, 11.0), (38.4, 10.3), (40.1, 15.7), (41.3, 10.3), (43.1, 9.7), (44.8, 8.1),
     (46.6, 6.8), (48.4, 5.5), (50.1, 4.3), (51.9, 6.2), (53.6, 7.5), (55.4, 10.0), (57.2, 12.5),
     (58.9, 13.2), (60.7, 12.5), (62.5, 10.0), (64.2, 6.8), (66, 3.6), (67.8, 5.2), (69.5, 5.5),
     (71.3, 5.9), (72, 6.8)],
]
so4 = [
    [(0, 7.8), (1.3, 7.1), (2.8, 7.8), (3.9, 6.2), (4.9, 7.1), (6.5, 8.4), (8, 9.4), (10.1, 8.7),
     (11.7, 7.1), (12.7, 8.1), (14.3, 8.7), (15.3, 10.3), (16.4, 8.7), (17.4, 5.2), (19, 3.9), (20, 2.7),
     (21.1, 3.3), (22.6, 3.0), (23.7, 3.3)],
    [(0, 5.5), (2.8, 6.5), (5.2, 6.2), (7.5, 7.1), (9.8, 6.5), (12.1, 6.2), (13.5, 9.7), (15, 9.0),
     (16.8, 10.6), (19.1, 10.3), (21.4, 10.3), (23.8, 10.6), (26.1, 11.6), (28.4, 12.5), (30.2, 13.2),
     (31.9, 11.9), (33.1, 10.0), (34.8, 11.0), (36.6, 11.3), (38.4, 11.6), (40.1, 11.9), (41.8, 10.3),
     (43, 9.7), (44.2, 13.2), (45.3, 18.6), (47, 18.3), (48.8, 18.9), (51.1, 19.9), (52.8, 18.9),
     (54.6, 17.6), (56.4, 16.7), (57.5, 15.1), (58.7, 14.1), (59.8, 18.9), (61, 21.5), (61.9, 22.9),
     (62.8, 17.6), (64.5, 17.0), (66.2, 16.0), (68, 15.4), (69.1, 13.2), (70.3, 10.6), (72, 10.3),
     (74.9, 10.0), (77.9, 10.6), (80.2, 16.0), (81.3, 13.2), (83.1, 13.8), (84.3, 11.9), (86, 10.6),
     (87.8, 8.7), (88.9, 7.1), (90.6, 6.5), (92.4, 6.2), (94.1, 6.5), (95.9, 6.8)],
    [(0, 13.2), (2.8, 12.5), (4.9, 11.3), (7.4, 8.7), (9, 8.1), (9.8, 9.5), (11.9, 12.0), (14, 14.5),
     (16, 15.1), (18.1, 15.2), (20.2, 15.7), (22.2, 16.0), (24.3, 16.7), (26.4, 15.4), (28.5, 14.1),
     (30.5, 15.1), (32.1, 16.4), (33.1, 16.0), (34.7, 12.9), (36.2, 13.2), (38.3, 11.9), (40.4, 11.3),
     (41.9, 11.6), (43.5, 8.1), (45, 6.8), (46.6, 5.5), (47.3, 4.3), (47.7, 4.5), (48, 12.2)],
    [(0, 9.0), (2, 8.7), (4.1, 9.7), (6.2, 8.7), (8.2, 9.0), (10.3, 9.7), (11.8, 11.9), (13.4, 12.9),
     (15, 13.2), (16, 15.7), (17.6, 16.4), (19.1, 17.0), (20.7, 15.4), (22.2, 16.0), (23.8, 15.1)],
    [(0, 6.5), (0.9, 8.1), (1.9, 7.1), (3.1, 9.4), (4.8, 8.2), (6.6, 8.2), (8.9, 8.2), (10.1, 8.4),
     (11.3, 7.8), (13.6, 8.1), (16, 7.5), (17.2, 8.1), (17.4, 22.1), (17.7, 11.0), (18.4, 12.5),
     (20.1, 14.5), (21.9, 15.4), (23.6, 15.1), (25.4, 14.5), (27.2, 13.8), (28.4, 17.6), (30.1, 18.9),
     (31.9, 19.2), (33.4, 18.9), (33.6, 27.7), (33.9, 18.9), (36, 17.6), (38.4, 16.0), (40.1, 18.6),
     (40.9, 16.4), (42.5, 12.5), (44.8, 10.6), (47.2, 8.7), (48.9, 7.1), (50.7, 6.8), (52.5, 8.4),
     (54.2, 10.0), (56, 11.9), (57.8, 13.2), (59.5, 12.9), (61.3, 11.3), (63.1, 9.7), (64.8, 9.0),
     (66.6, 8.4), (69, 9.4), (70.7, 8.7), (72, 8.4)],
]
nh4 = [
    [(0, 2.4), (1.8, 1.8), (3.9, 2.0), (7, 2.4), (9.1, 2.7), (11.2, 2.2), (12.7, 1.7), (14.3, 2.7),
     (15.9, 3.3), (16.9, 1.8), (18.5, 1.2), (20.6, 1.0), (23.7, 1.1)],
    [(0, 2.0), (5.2, 2.2), (9.8, 2.7), (14.5, 3.0), (19.1, 3.3), (23.8, 3.5), (28.4, 3.9), (30.8, 3.6),
     (35.4, 3.3), (40.1, 3.3), (43, 2.7), (45.3, 4.9), (48.2, 5.2), (51.7, 5.5), (55.2, 4.6), (58.7, 4.3),
     (61.6, 5.9), (63.3, 4.3), (66.8, 3.6), (70.3, 2.9), (74.9, 3.0), (78.4, 3.6), (80.8, 3.9), (84.3, 3.0),
     (87.8, 2.4), (91.3, 1.8), (95.9, 2.0)],
    [(0, 3.9), (4.9, 3.0), (9, 2.7), (9.8, 2.9), (14, 3.6), (18.1, 3.9), (22.2, 4.3), (26.4, 4.3),
     (30.5, 3.9), (32.1, 4.9), (33.6, 3.9), (36.7, 3.3), (40.9, 3.0), (45, 2.0), (47.1, 1.4), (48, 3.3)],
    [(0, 3.9), (2, 4.3), (5.1, 4.6), (8.2, 4.9), (11.3, 4.9), (14.4, 5.5), (16.5, 6.8), (18.6, 6.5),
     (20.7, 6.7), (23.8, 6.2)],
    [(0, 2.7), (4.2, 2.9), (8.9, 2.9), (10.1, 3.3), (13.6, 2.9), (17.2, 3.3), (17.8, 4.9), (20.1, 4.9),
     (23.1, 4.9), (27.2, 4.6), (28.4, 6.8), (30.7, 7.1), (33.1, 7.5), (33.6, 8.7), (34.8, 7.1), (37.2, 5.9),
     (40.1, 7.1), (41.9, 4.9), (44.2, 4.3), (46.6, 3.3), (50.1, 2.4), (53.6, 3.0), (57.2, 4.9), (59.5, 4.6),
     (62.5, 3.6), (64.8, 3.0), (67.8, 2.7), (72, 2.5)],
]
no3 = [
    [(0, 1.0), (3.9, 1.1), (7.5, 1.2), (11.2, 0.9), (15.3, 1.1), (17.4, 0.8), (20.6, 0.6), (23.7, 0.6)],
    [(0, 1.0), (5.2, 1.1), (9.8, 0.8), (19.1, 1.7), (22.6, 1.4), (26.1, 0.8), (31.9, 1.7), (35.4, 1.1),
     (41.2, 0.8), (47, 0.6), (52.8, 1.0), (58.7, 1.4), (61, 1.2), (64.5, 0.8), (70.3, 0.6), (76.1, 0.6),
     (80.2, 1.2), (84.3, 0.8), (91.3, 0.6), (95.9, 0.8)],
    [(0, 1.0), (9, 0.8), (20.2, 1.0), (28.5, 1.1), (31.5, 1.6), (32.1, 3.0), (33.6, 1.4), (37.8, 1.1),
     (43, 0.9), (48, 0.8)],
    [(0, 2.7), (2, 3.0), (5.1, 3.6), (8.2, 4.3), (11.3, 4.9), (14.4, 5.5), (16.5, 6.9), (18.6, 6.5),
     (20.7, 6.2), (23.8, 5.9)],
    [(0, 1.8), (4.2, 1.4), (8.9, 1.1), (10.1, 1.7), (13.6, 1.1), (17.2, 1.1), (17.8, 2.4), (20.1, 2.0),
     (23.1, 1.8), (27.2, 2.0), (28.4, 5.5), (30.7, 5.2), (33.1, 6.2), (34.2, 4.6), (36, 3.0), (38.4, 1.7),
     (40.1, 5.5), (41.9, 2.4), (44.2, 2.0), (45.4, 2.7), (47.8, 1.1), (50.1, 0.8), (53.6, 1.7), (57.2, 4.3),
     (59.5, 3.8), (62.5, 3.0), (64.8, 1.1), (67.8, 0.8), (72, 0.8)],
]
chl = [
    [(0, 0.2), (12, 0.25), (24, 0.2)],
    [(0, 0.2), (30, 0.25), (60, 0.2), (96, 0.2)],
    [(0, 0.2), (24, 0.25), (48, 0.2)],
    [(0, 0.3), (12, 0.3), (24, 0.3)],
    [(0, 0.3), (24, 0.35), (33.6, 0.5), (48, 0.35), (72, 0.3)],
]


def xy(pairs):
    a = np.array(pairs, dtype=float)
    return a[:, 0], a[:, 1]


# ---------------- layout ----------------
plt.rcParams['font.family'] = ['Liberation Serif', 'DejaVu Serif']
W, H = 1123, 1061
seg_px = [(111.7, 194.0), (212.7, 507.3), (526.0, 692.6), (711.3, 794.5), (813.2, 1033.3)]
row_px = [(25, 118), (136, 228.7), (256, 348.7), (376, 468.7), (496.7, 588.7), (617.3, 773), (792, 949)]

fig = plt.figure(figsize=(W / 100, H / 100), dpi=100)


def rect(x0, x1, top, bot):
    return [x0 / W, 1 - bot / H, (x1 - x0) / W, (bot - top) / H]


def ftext(x, y, s, **kw):
    fig.text(x / W, 1 - y / H, s, **kw)


grid_c = '#8c8cff'
for s, (x0, x1) in enumerate(seg_px):
    bg = fig.add_axes(rect(x0, x1, 25, 949))
    bg.set_xlim(0, 24 * seg_days[s])
    bg.axis('off')
    for d in range(seg_days[s] + 1):
        bg.axvline(24 * d, color=grid_c, ls=':', lw=0.9, clip_on=False)

gb = fig.add_axes(rect(seg_px[0][0], seg_px[-1][1], *row_px[1]))
gb.set_ylim(0, 360)
gb.axis('off')
for v in (0, 180, 360):
    gb.axhline(v, color=grid_c, ls=':', lw=0.9, clip_on=False)

axes, twins = [], []
for r, (top, bot) in enumerate(row_px):
    row, trow = [], []
    for s, (x0, x1) in enumerate(seg_px):
        ax = fig.add_axes(rect(x0, x1, top, bot))
        ax.set_xlim(0, 24 * seg_days[s])
        ax.patch.set_visible(False)
        for sp in ax.spines.values():
            sp.set_visible(False)
        ax.tick_params(left=False, labelleft=False, bottom=False, labelbottom=False)
        row.append(ax)
        if r < 4:
            tw = ax.twinx()
            for sp in tw.spines.values():
                sp.set_visible(False)
            tw.tick_params(right=False, labelright=False)
            trow.append(tw)
    axes.append(row)
    twins.append(trow)


def left_axis(r, color, lim, major, minor=None):
    for ax in axes[r]:
        ax.set_ylim(*lim)
    ax = axes[r][0]
    ax.spines['left'].set_visible(True)
    ax.spines['left'].set_color(color)
    ax.spines['left'].set_linewidth(1.8)
    ax.yaxis.set_major_locator(MultipleLocator(major))
    if minor:
        ax.yaxis.set_minor_locator(MultipleLocator(minor))
    ax.tick_params(axis='y', which='both', left=True, labelleft=True, direction='out',
                   color=color, labelcolor=color, width=1.8, labelsize=12.5, pad=2)
    ax.tick_params(axis='y', which='major', length=7)
    ax.tick_params(axis='y', which='minor', length=4)


def right_axis(r, color, lim, major, minor=None, bounds=None):
    for tw in twins[r]:
        tw.set_ylim(*lim)
    tw = twins[r][-1]
    tw.spines['right'].set_visible(True)
    tw.spines['right'].set_color(color)
    tw.spines['right'].set_linewidth(1.8)
    if bounds:
        tw.spines['right'].set_bounds(*bounds)
    tw.yaxis.set_major_locator(MultipleLocator(major))
    if minor:
        tw.yaxis.set_minor_locator(MultipleLocator(minor))
    tw.tick_params(axis='y', which='both', right=True, labelright=True, direction='out',
                   color=color, labelcolor=color, width=1.8, labelsize=12.5, pad=2)
    tw.tick_params(axis='y', which='major', length=7)
    tw.tick_params(axis='y', which='minor', length=4)


left_axis(0, '#ff0000', (0, 2000), 1000, 500)
right_axis(0, '#707070', (800, 1018), 100, 50)
left_axis(1, '#0000ff', (0, 360), 180, 90)
right_axis(1, '#009999', (0, 4.96), 1, bounds=(0, 4.4))
left_axis(2, '#ff0000', (0, 1000), 1000, 200)
right_axis(2, '#80a0ff', (10, 30), 5)
left_axis(3, '#1e6e96', (0, 100), 20)
right_axis(3, '#505050', (53.6, 90.5), 10, 5)
left_axis(4, '#7f00e6', (0, 200), 50)
left_axis(5, 'black', (0, 17.9), 5)
left_axis(6, 'black', (0, 30), 5)

for r in (2, 3):
    for ax, tw in zip(axes[r], twins[r]):
        ax.set_zorder(tw.get_zorder() + 1)

# bottom time axes
for s, ax in enumerate(axes[6]):
    n = seg_days[s]
    ax.spines['bottom'].set_visible(True)
    ax.spines['bottom'].set_linewidth(1.8)
    ax.set_xticks(np.arange(0, 24 * n + 1, 24))
    ax.set_xticklabels(['00:00'] * (n + 1), rotation=90)
    ax.set_xticks(np.arange(12, 24 * n, 24), minor=True)
    ax.tick_params(axis='x', which='both', bottom=True, labelbottom=True, direction='out',
                   width=1.8, labelsize=13, pad=3)
    ax.tick_params(axis='x', which='major', length=9)
    ax.tick_params(axis='x', which='minor', length=6)

# ---------------- plotting ----------------
for s in range(5):
    t_met = met_start + met_step * np.arange(len(mix_height[s]))
    axes[0][s].plot(t_met, mix_height[s], color='#ff0000', lw=1.6)
    twins[0][s].plot(t_met, pressure[s], color='#707070', lw=1.6)

    t, v = xy(wind_dir[s])
    axes[1][s].plot(t, v, 's', color='#0000ff', ms=4.2, mew=0, clip_on=False)
    t, v = xy(wind_speed[s])
    twins[1][s].plot(t, v, color='#009990', lw=2.8)

    axes[2][s].plot(np.arange(len(irradiance[s])), irradiance[s], color='#ff0000', lw=3)
    t, v = xy(temperature[s])
    twins[2][s].plot(t, v, color='#80a0ff', lw=3.2)

    t, v = xy(lwc[s])
    axes[3][s].plot(t, v, color='#1e6e96', lw=2.8)
    axes[3][s].plot(t, v, color='#6fb0d0', lw=0.8)
    t, v = xy(rh[s])
    twins[3][s].plot(t, v, color='#6e6e6e', lw=3.2)

    t, v = xy(ox[s])
    axes[4][s].fill_between(t, 0, v, color='#7000e6', lw=0)

    for series, c in ((lvooa, '#ff88e0'), (svooa, '#00ffff'), (poa, '#00c864')):
        t, v = xy(series[s])
        axes[5][s].plot(t, v, color=c, lw=3)

    for series, c in ((chl, '#ff33cc'), (nh4, '#ffb84d'), (no3, '#0033ff'), (org, '#00cc00'),
                      (so4, '#ff0000')):
        t, v = xy(series[s])
        axes[6][s].plot(t, v, color=c, lw=3, solid_joinstyle='round')

# ---------------- texts ----------------
ftext(118, 37, '(B)', fontsize=20, va='center', ha='left')
ftext(20, 85, 'Mixing Height (m)', color='#ff0000', fontsize=13.5, rotation=90, ha='center', va='center')
ftext(27, 203, 'WD (Deg)', color='#0000ff', fontsize=10.5, rotation=90, ha='center', va='center')
ftext(34, 302, 'IR(w/m²)', color='#ff0000', fontsize=13.5, rotation=90, ha='center', va='center')
ftext(48, 417, 'LWC(µg/m³)', color='#1e6e96', fontsize=11, rotation=90, ha='center', va='center')
ftext(45, 553, 'Ox(ppb)', color='#7f00e6', fontsize=11, rotation=90, ha='center', va='center')
ftext(52, 786, 'Mass conc. (µg/m³)', color='black', fontsize=12.5, rotation=90, ha='center', va='center')

ftext(1112, 95, 'Pressure (hPa)', fontsize=13, rotation=270, ha='center', va='center')
ftext(1112, 199, 'WS(m/s)', fontsize=13, rotation=270, ha='center', va='center')
ftext(1108, 300, 'Temp(°C)', color='#80a0ff', fontsize=13, rotation=270, ha='center', va='center')
ftext(1110, 414, 'RH%', fontsize=13, rotation=270, ha='center', va='center')

for word, x, c in (('LVOOA', 129, '#ff88e0'), ('POA', 246, '#00c864'), ('SVOOA', 317, '#00ffff')):
    ftext(x, 652, word, color=c, fontsize=21, fontweight='bold', ha='left', va='center')
for word, x, c in (('Org', 123, '#00cc00'), ('NO3', 182, '#0000ff'), ('SO4', 256, '#ff0000'),
                   ('NH4', 318, '#cc8800'), ('Chl', 387, '#ff00cc')):
    ftext(x, 810, word, color=c, fontsize=21, fontweight='bold', ha='left', va='center')

for name, x, y in zip(seg_labels, (155, 363, 607, 752, 906), (1006, 1022, 1024, 1028, 1027)):
    ftext(x, y, name, fontsize=13.5, ha='center', va='center')

fig.savefig('out.png', dpi=100)
